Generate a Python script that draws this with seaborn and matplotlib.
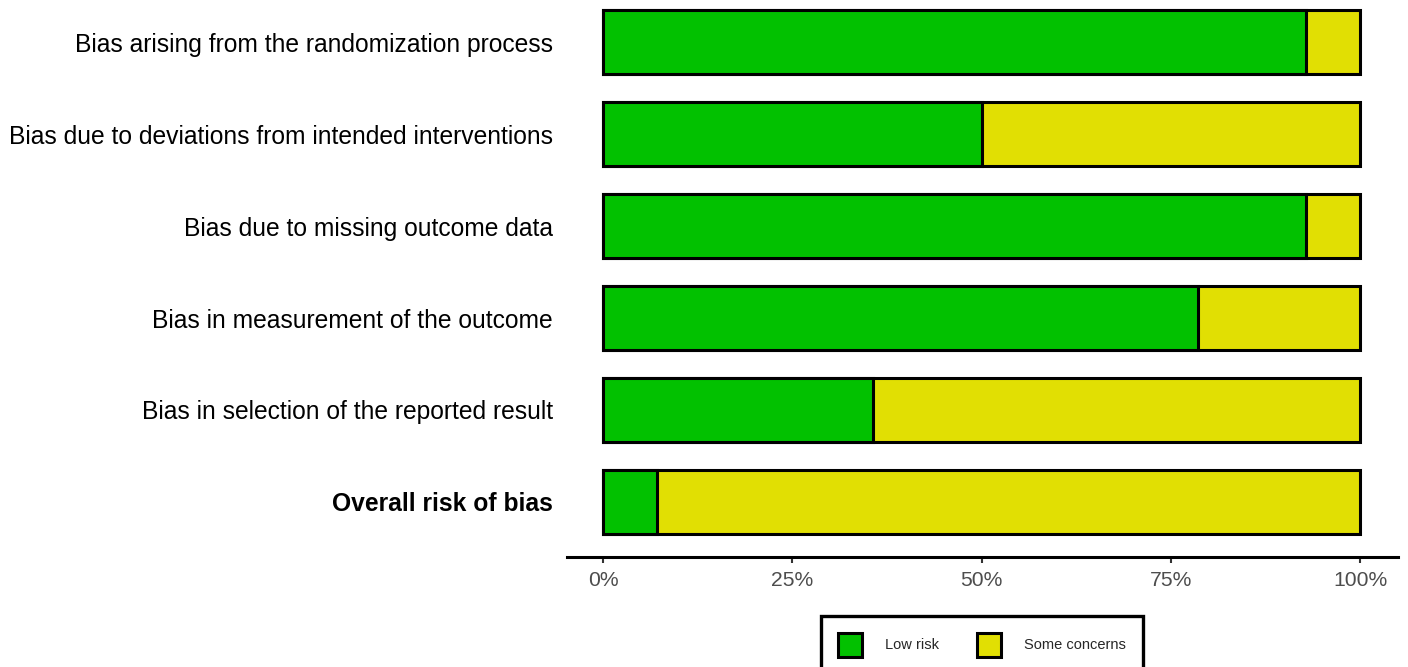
import pandas as pd
import matplotlib.pyplot as plt
import matplotlib.font_manager as fm
import seaborn as sns
from matplotlib.patches import Patch

# Domains and share of studies judged "Low risk" (%)
domains = [
    "Bias arising from the randomization process",
    "Bias due to deviations from intended interventions",
    "Bias due to missing outcome data",
    "Bias in measurement of the outcome",
    "Bias in selection of the reported result",
    "Overall risk of bias",
]
low_risk = [92.86, 50.0, 92.86, 78.57, 35.71, 7.14]
some_concerns = [7.14, 50.0, 7.14, 21.43, 64.29, 92.86]
x_ticks = [0, 25, 50, 75, 100]
x_labels = ["0%", "25%", "50%", "75%", "100%"]

green = "#02C100"
yellow = "#E1DF03"

df = pd.DataFrame({"domain": domains, "low": low_risk, "some": some_concerns})
df["total"] = df["low"] + df["some"]

# keep matplotlib from picking the narrow cut of Liberation Sans
fm.fontManager.ttflist = [f for f in fm.fontManager.ttflist if "Narrow" not in f.fname]

sns.set_style("white")
plt.rcParams['font.family'] = ['Liberation Sans', 'DejaVu Sans']

fig = plt.figure(figsize=(14.08, 6.67), dpi=100)
ax = fig.add_axes([567 / 1408, 110 / 667, 831 / 1408, 557 / 667])

# Stacked bars: full bar in yellow, low risk on top in green
sns.barplot(data=df, y="domain", x="total", orient="h", color=yellow,
            width=0.7, edgecolor="black", linewidth=2.2, saturation=1, ax=ax)
sns.barplot(data=df, y="domain", x="low", orient="h", color=green,
            width=0.7, edgecolor="black", linewidth=2.2, saturation=1, ax=ax)

ax.set_xlim(-4.76, 105.0)
ax.set_ylim(5.6, -0.46)
ax.set_xticks(x_ticks)
ax.set_xticklabels(x_labels, color="#4D4D4D", fontsize=15.2)
ax.set_xlabel("")
ax.set_ylabel("")
ax.tick_params(axis="x", length=4, width=1.5, color="#333333", pad=6, bottom=True)
ax.tick_params(axis="y", length=0, pad=10, labelsize=17.7, labelcolor="black")
for lab in ax.get_yticklabels():
    if lab.get_text() == "Overall risk of bias":
        lab.set_fontweight("bold")

for side in ["top", "right", "left"]:
    ax.spines[side].set_visible(False)
ax.spines["bottom"].set_linewidth(2.2)
ax.spines["bottom"].set_color("black")

handles = [Patch(facecolor=green, edgecolor="black", linewidth=2.2, label="Low risk"),
           Patch(facecolor=yellow, edgecolor="black", linewidth=2.2, label="Some concerns")]
leg = fig.legend(handles=handles, loc="upper center", ncol=2,
                 bbox_to_anchor=(982 / 1408, 1 - 609 / 667),
                 frameon=True, fancybox=False, framealpha=1, fontsize=10.5,
                 handlelength=1.65, handleheight=2.1, handletextpad=1.55,
                 columnspacing=2.65, borderpad=1.15)
leg.get_frame().set_edgecolor("black")
leg.get_frame().set_linewidth(2.4)

fig.savefig("out.png", dpi=100)
